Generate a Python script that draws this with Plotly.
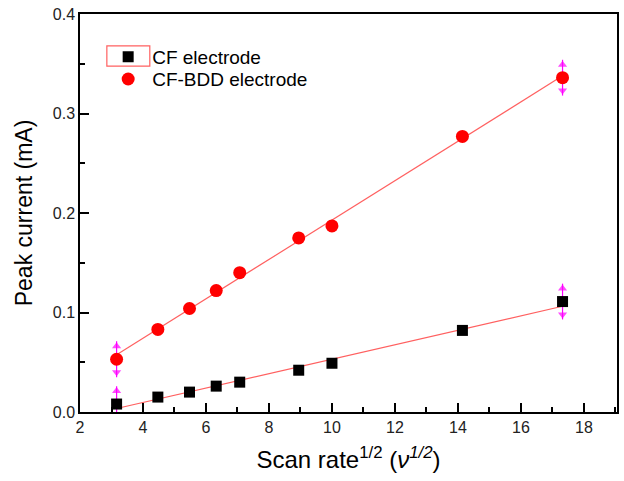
import numpy as np
import plotly.graph_objects as go

scan_rate_sqrt = [3.162, 4.472, 5.477, 6.325, 7.071, 8.944, 10.0, 14.142, 17.321]
cf_current = [0.008, 0.015, 0.020, 0.026, 0.030, 0.042, 0.049, 0.082, 0.111]
bdd_current = [0.053, 0.083, 0.104, 0.122, 0.140, 0.175, 0.187, 0.277, 0.336]
cf_err = [0.018, 0, 0, 0, 0, 0, 0, 0, 0.018]
bdd_err = [0.018, 0, 0, 0, 0, 0, 0, 0, 0.018]

x = np.array(scan_rate_sqrt)
fig = go.Figure()

# linear fits
for ys in (cf_current, bdd_current):
    k, b = np.polyfit(x, np.array(ys), 1)
    xf = np.array([x.min(), x.max()])
    fig.add_trace(go.Scatter(x=xf, y=k * xf + b, mode="lines",
                             line=dict(color="#ff6060", width=1.2),
                             showlegend=False, hoverinfo="skip"))

# error arrows (magenta)
for ys, es in ((cf_current, cf_err), (bdd_current, bdd_err)):
    for xi, yi, ei in zip(scan_rate_sqrt, ys, es):
        if ei <= 0:
            continue
        fig.add_trace(go.Scatter(x=[xi, xi], y=[yi - ei, yi + ei], mode="lines",
                                 line=dict(color="#ff00ff", width=1.2),
                                 showlegend=False, hoverinfo="skip"))
        fig.add_trace(go.Scatter(x=[xi, xi], y=[yi + ei - 0.005, yi - ei + 0.005],
                                 mode="markers",
                                 marker=dict(symbol=["triangle-up", "triangle-down"],
                                             size=[8, 8], color="#ff00ff",
                                             line=dict(width=0)),
                                 showlegend=False, hoverinfo="skip"))

fig.add_trace(go.Scatter(x=scan_rate_sqrt, y=cf_current, mode="markers",
                         name="CF electrode", legend="legend",
                         marker=dict(symbol="square", size=11, color="black",
                                     line=dict(width=0))))
fig.add_trace(go.Scatter(x=scan_rate_sqrt, y=bdd_current, mode="markers",
                         name="CF-BDD electrode", legend="legend2",
                         marker=dict(symbol="circle", size=13, color="#ff0000",
                                     line=dict(width=0))))

axis_common = dict(showline=True, linecolor="black", linewidth=1.5, mirror=True,
                   ticks="inside", ticklen=9, tickwidth=1.5, tickcolor="black",
                   showgrid=False, zeroline=False,
                   tickfont=dict(family="Liberation Sans, Arial", size=16, color="#222"))

fig.update_xaxes(range=[2, 19.05], dtick=2, tick0=2,
                 minor=dict(ticks="inside", dtick=1, ticklen=5, tickwidth=1.5, tickcolor="black"),
                 title=dict(text="Scan rate<sup>1/2</sup> (<i>ν</i><sup><i>1/2</i></sup>)",
                            font=dict(family="Liberation Sans, Arial", size=24, color="black"),
                            standoff=16),
                 **axis_common)
fig.update_yaxes(range=[0, 0.4], dtick=0.1, tickformat=".1f",
                 minor=dict(ticks="inside", dtick=0.05, ticklen=5, tickwidth=1.5, tickcolor="black"),
                 title=dict(text="Peak current (mA)",
                            font=dict(family="Liberation Sans, Arial", size=23, color="black"),
                            standoff=14),
                 **axis_common)

legend_common = dict(xanchor="left", yanchor="top", itemwidth=38,
                     font=dict(family="Liberation Sans, Arial", size=19, color="black"),
                     bgcolor="rgba(0,0,0,0)", itemsizing="trace")
fig.update_layout(
    width=624, height=481,
    margin=dict(l=80, r=5, t=14, b=69),
    plot_bgcolor="white", paper_bgcolor="white",
    legend=dict(x=0.045, y=0.94, **legend_common),
    legend2=dict(x=0.045, y=0.884, **legend_common),
)

# pink box around the first legend symbol (as in the original)
fig.add_shape(type="rect", xref="paper", yref="paper",
              x0=0.050, x1=0.130, y0=0.869, y1=0.920,
              line=dict(color="#ff6060", width=1.2))

fig.write_html("out.html")
